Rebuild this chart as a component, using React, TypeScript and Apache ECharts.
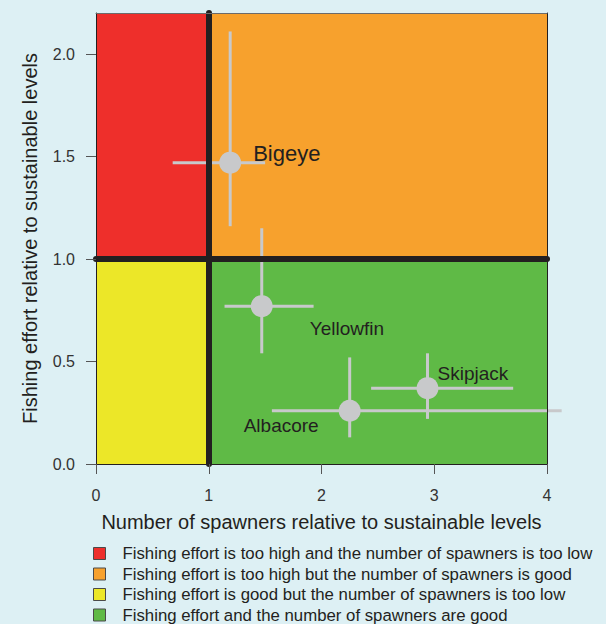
import React, { useEffect, useRef } from "react";
import * as echarts from "echarts";

const species = ["Bigeye", "Yellowfin", "Albacore", "Skipjack"];
const spawners = [1.19, 1.47, 2.25, 2.94];
const effort = [1.47, 0.77, 0.26, 0.37];
const spawnersLow = [0.68, 1.14, 1.56, 2.44];
const spawnersHigh = [1.5, 1.93, 4.13, 3.7];
const effortLow = [1.16, 0.54, 0.13, 0.22];
const effortHigh = [2.11, 1.15, 0.52, 0.54];

const xTicks = [0, 1, 2, 3, 4];
const yTicks = [0, 0.5, 1, 1.5, 2];
const xMax = 4;
const yMax = 2.2;
const threshold = 1;

const quadrantNames = [
  "Fishing effort is too high and the number of spawners is too low",
  "Fishing effort is too high but the number of spawners is good",
  "Fishing effort is good but the number of spawners is too low",
  "Fishing effort and the number of spawners are good",
];
// [x0, y0, x1, y1] in data units
const quadrantBounds = [
  [0, threshold, threshold, yMax],
  [threshold, threshold, xMax, yMax],
  [0, 0, threshold, threshold],
  [threshold, 0, xMax, threshold],
];
const quadrantColors = ["#EE2F2B", "#F7A12D", "#ECE728", "#5FBA46"];

// label offsets (px) relative to marker centre
const labelOffsets = [
  [23, -9],
  [48, 22],
  [-106, 14.5],
  [10, -15],
];
const labelSizes = [22, 19, 19, 19];

const FONT = "'Liberation Sans', Arial, Helvetica, sans-serif";
const TEXT = "#231F20";

export default function App() {
  const ref = useRef<HTMLDivElement>(null);
  useEffect(() => {
    if (!ref.current) return;
    const chart = echarts.init(ref.current, undefined, { renderer: "svg" });

    const quadrantSeries = quadrantNames.map((name, i) => ({
      name,
      type: "line",
      data: [],
      z: 1,
      itemStyle: { color: quadrantColors[i] },
      markArea: {
        silent: true,
        itemStyle: { color: quadrantColors[i], opacity: 1 },
        label: { show: false },
        data: [
          [
            { coord: [quadrantBounds[i][0], quadrantBounds[i][1]] },
            { coord: [quadrantBounds[i][2], quadrantBounds[i][3]] },
          ],
        ],
      },
    }));

    const errData = species.map((s, i) => [
      spawners[i],
      effort[i],
      spawnersLow[i],
      spawnersHigh[i],
      effortLow[i],
      effortHigh[i],
    ]);

    const option: any = {
      animation: false,
      backgroundColor: "#DDF0F4",
      textStyle: { fontFamily: FONT },
      grid: { left: 96, right: 59, top: 13, bottom: 160, containLabel: false },
      legend: {
        orient: "vertical",
        left: 93,
        top: 545,
        height: 120,
        width: 520,
        padding: 0,
        itemWidth: 12,
        itemHeight: 12,
        itemGap: 3.5,
        icon: "rect",
        selectedMode: false,
        data: quadrantNames,
        itemStyle: { borderColor: "#4a4a4a", borderWidth: 1 },
        textStyle: {
          fontFamily: FONT,
          fontSize: 16.8,
          lineHeight: 16,
          color: TEXT,
          padding: [0, 0, 0, 12],
        },
      },
      xAxis: [
        {
          type: "value",
          min: 0,
          max: xMax,
          interval: 1,
          z: 5,
          name: "Number of spawners relative to sustainable levels",
          nameLocation: "middle",
          nameGap: 48,
          nameTextStyle: { fontSize: 20, color: TEXT, fontFamily: FONT },
          axisLine: { show: true, onZero: false, lineStyle: { color: TEXT, width: 1 } },
          axisTick: {
            show: true,
            length: 10,
            customValues: xTicks,
            lineStyle: { color: "#555" },
          },
          axisLabel: {
            customValues: xTicks,
            margin: 23,
            fontSize: 16,
            color: "#333",
            fontFamily: FONT,
          },
          splitLine: { show: false },
        },
        {
          type: "value",
          position: "top",
          min: 0,
          max: xMax,
          z: 5,
          axisLine: { show: true, onZero: false, lineStyle: { color: "#6b6b6b", width: 1 } },
          axisTick: { show: false },
          axisLabel: { show: false },
          splitLine: { show: false },
        },
      ],
      yAxis: [
        {
          type: "value",
          min: 0,
          max: yMax,
          interval: 0.5,
          z: 5,
          name: "Fishing effort relative to sustainable levels",
          nameLocation: "middle",
          nameGap: 56,
          nameTextStyle: { fontSize: 20, color: TEXT, fontFamily: FONT },
          axisLine: { show: true, onZero: false, lineStyle: { color: TEXT, width: 1 } },
          axisTick: {
            show: true,
            length: 10,
            customValues: yTicks,
            lineStyle: { color: "#555" },
          },
          axisLabel: {
            customValues: yTicks,
            margin: 21,
            fontSize: 16,
            color: "#333",
            fontFamily: FONT,
            formatter: (v: number) => v.toFixed(1),
          },
          splitLine: { show: false },
        },
        {
          type: "value",
          position: "right",
          min: 0,
          max: yMax,
          z: 5,
          axisLine: { show: true, onZero: false, lineStyle: { color: TEXT, width: 1 } },
          axisTick: { show: false },
          axisLabel: { show: false },
          splitLine: { show: false },
        },
      ],
      series: [
        ...quadrantSeries,
        {
          type: "custom",
          name: "errors",
          z: 3,
          silent: true,
          clip: false,
          data: errData,
          renderItem: (params: any, api: any) => {
            const xl = api.coord([api.value(2), api.value(1)]);
            const xh = api.coord([api.value(3), api.value(1)]);
            const yl = api.coord([api.value(0), api.value(4)]);
            const yh = api.coord([api.value(0), api.value(5)]);
            const style = { stroke: "#C8C9CB", lineWidth: 3, lineCap: "butt" };
            return {
              type: "group",
              children: [
                { type: "line", shape: { x1: xl[0], y1: xl[1], x2: xh[0], y2: xh[1] }, style },
                { type: "line", shape: { x1: yl[0], y1: yl[1], x2: yh[0], y2: yh[1] }, style },
              ],
            };
          },
        },
        {
          type: "line",
          name: "thresholds",
          data: [],
          z: 4,
          markLine: {
            silent: true,
            symbol: "none",
            label: { show: false },
            lineStyle: { color: TEXT, width: 6, type: "solid", cap: "round" },
            data: [{ xAxis: threshold }, { yAxis: threshold }],
          },
        },
        {
          type: "scatter",
          name: "stocks",
          z: 6,
          symbol: "circle",
          symbolSize: 22,
          itemStyle: { color: "#C8C9CB", opacity: 1 },
          data: species.map((s, i) => ({
            name: s,
            value: [spawners[i], effort[i]],
            label: {
              show: true,
              formatter: s,
              position: "inside",
              align: "left",
              verticalAlign: "middle",
              offset: labelOffsets[i],
              fontSize: labelSizes[i],
              color: TEXT,
              fontFamily: FONT,
            },
          })),
        },
      ],
    };
    chart.setOption(option);
    return () => chart.dispose();
  }, []);
  return (
    <div
      ref={ref}
      style={{ position: "fixed", left: 0, top: 0, width: 606, height: 624 }}
    />
  );
}
